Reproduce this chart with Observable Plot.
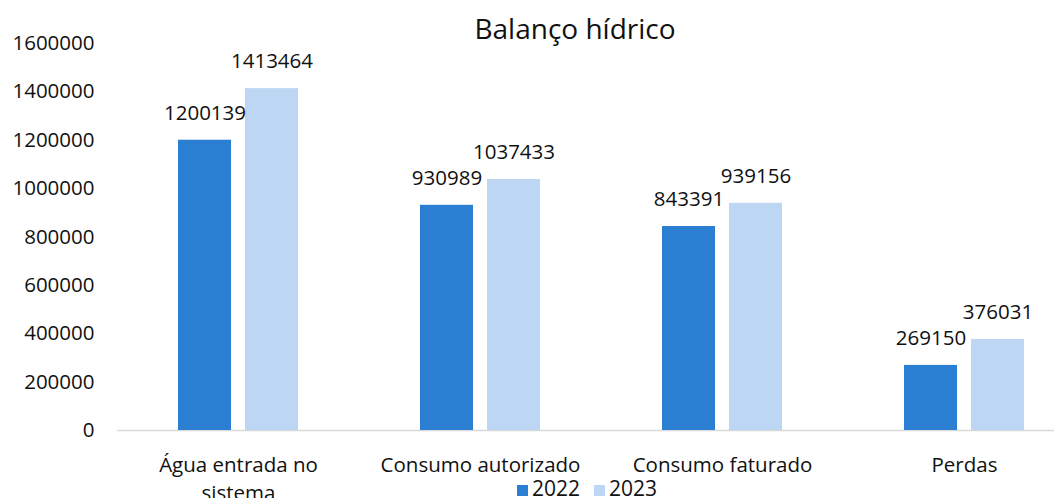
<!DOCTYPE html>
<html>
<head>
<meta charset="utf-8">
<script src="https://cdn.jsdelivr.net/npm/d3@7"></script>
<script src="https://cdn.jsdelivr.net/npm/@observablehq/plot@0.6"></script>
<style>
  html, body { margin: 0; padding: 0; background: #fff; overflow: hidden; width: 1054px; height: 498px; }
  #wrap { position: relative; width: 1054px; height: 498px; font-family: "Open Sans", sans-serif; color: #111; }
  #title { position: absolute; left: 0; top: 8px; width: 1150px; text-align: center; font-size: 28px; line-height: 40px; }
  #legend { position: absolute; left: 0; top: 476px; width: 1174px; text-align: center; font-size: 21px; line-height: 24px; white-space: nowrap; }
  #legend span.sw { display: inline-block; width: 11px; height: 11px; margin-right: 4px; vertical-align: 0px; }
  #legend span.it { margin: 0 7px; }
</style>
</head>
<body>
<div id="wrap">
  <div id="chart"></div>
  <div id="title"></div>
  <div id="legend"></div>
</div>
<script>
const title = "Balanço hídrico";
const categories = ["Água entrada no sistema", "Consumo autorizado", "Consumo faturado", "Perdas"];
const categoryLabels = ["Água entrada no\nsistema", "Consumo autorizado", "Consumo faturado", "Perdas"];
const years = ["2022", "2023"];
const values2022 = [1200139, 930989, 843391, 269150];
const values2023 = [1413464, 1037433, 939156, 376031];
const yTicks = [0, 200000, 400000, 600000, 800000, 1000000, 1200000, 1400000, 1600000];
const colors = ["#2a7fd3", "#bdd6f4"];

const data = [];
categories.forEach((c, i) => {
  data.push({category: c, year: years[0], value: values2022[i]});
  data.push({category: c, year: years[1], value: values2023[i]});
});

const fs = 20.5;
const chart = Plot.plot({
  width: 1054,
  height: 475,
  marginTop: 43,
  marginBottom: 45,
  marginLeft: 116,
  marginRight: 0,
  style: {fontFamily: "Open Sans, sans-serif", fontSize: fs + "px", color: "#111", background: "transparent", overflow: "visible"},
  fx: {domain: categories, range: [116, 1085], padding: 0, label: null, axis: null},
  x: {domain: years, paddingInner: 0.206, paddingOuter: 0.885, axis: null},
  y: {domain: [0, 1600000], label: null, axis: null},
  color: {domain: years, range: colors},
  marks: [
    Plot.ruleY([0], {stroke: "#d9d9d9", strokeWidth: 1.5}),
    Plot.barY(data, {fx: "category", x: "year", y: "value", fill: "year"}),
    Plot.text(data, {fx: "category", x: "year", y: "value", text: d => String(d.value), dy: -27, fontSize: fs, fill: "#111"}),
    Plot.axisY({ticks: yTicks, tickFormat: d => String(d), tickSize: 0, tickPadding: 23, fontSize: fs, label: null, fill: "#111"}),
    Plot.axisFx({anchor: "bottom", tickFormat: d => categoryLabels[categories.indexOf(d)], tickSize: 0, tickPadding: 22, fontSize: fs, lineHeight: 1.35, label: null, fill: "#111"})
  ]
});
document.getElementById("chart").appendChild(chart);
document.getElementById("title").textContent = title;
const lg = document.getElementById("legend");
years.forEach((y, i) => {
  const it = document.createElement("span");
  it.className = "it";
  const sw = document.createElement("span");
  sw.className = "sw";
  sw.style.background = colors[i];
  it.appendChild(sw);
  it.appendChild(document.createTextNode(y));
  lg.appendChild(it);
});
</script>
</body>
</html>
